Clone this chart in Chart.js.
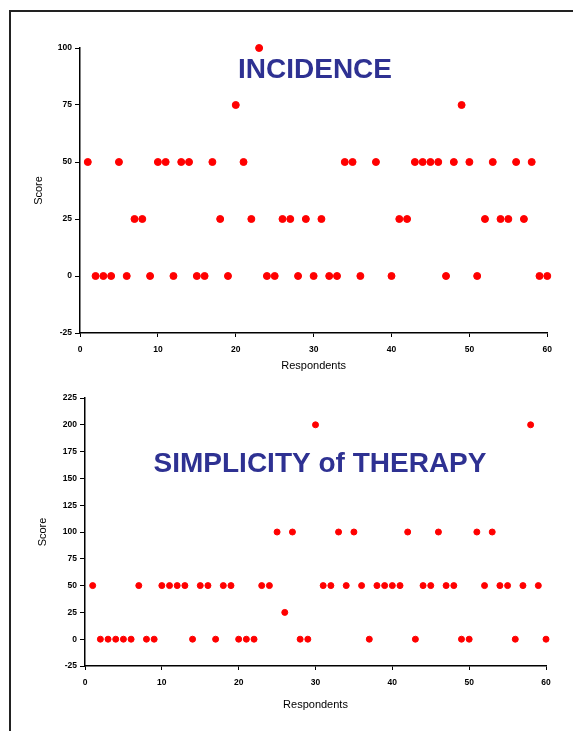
<!DOCTYPE html>
<html>
<head>
<meta charset="utf-8">
<script src="https://cdn.jsdelivr.net/npm/chart.js@4.4.0/dist/chart.umd.min.js"></script>
<style>
  body { margin: 0; background: #fff; width: 573px; height: 731px; overflow: hidden; position: relative; }
  #frame { position: absolute; left: 9px; top: 10px; width: 580px; height: 740px; border-top: 2px solid #222; border-left: 2px solid #222; }
  .box { position: absolute; left: 20px; width: 540px; }
  #box1 { top: 30px; height: 350px; }
  #box2 { top: 385px; height: 340px; }
</style>
</head>
<body>
<div id="frame"></div>
<div class="box" id="box1"><canvas id="chartIncidence"></canvas></div>
<div class="box" id="box2"><canvas id="chartTherapy"></canvas></div>
<script>
// Incidence - respondents 37 and 39 have no point
const incidenceResp = [1,2,3,4,5,6,7,8,9,10,11,12,13,14,15,16,17,18,19,20,21,22,23,24,25,26,27,28,29,30,31,32,33,34,35,36,38,40,41,42,43,44,45,46,47,48,49,50,51,52,53,54,55,56,57,58,59,60];
const incidenceScore = [50,0,0,0,50,0,25,25,0,50,50,0,50,50,0,0,50,25,0,75,50,25,100,0,0,25,25,0,25,0,25,0,0,50,50,0,50,0,25,25,50,50,50,50,0,50,75,50,0,25,50,25,25,50,25,50,0,0];
const incidenceTicks = [-25, 0, 25, 50, 75, 100];

// Simplicity of therapy - respondents 1..60
const therapyResp = [1,2,3,4,5,6,7,8,9,10,11,12,13,14,15,16,17,18,19,20,21,22,23,24,25,26,27,28,29,30,31,32,33,34,35,36,37,38,39,40,41,42,43,44,45,46,47,48,49,50,51,52,53,54,55,56,57,58,59,60];
const therapyScore = [50,0,0,0,0,0,50,0,0,50,50,50,50,0,50,50,0,50,50,0,0,0,50,50,100,25,100,0,0,200,50,50,100,50,100,50,0,50,50,50,50,100,0,50,50,100,50,50,0,0,100,50,100,50,50,0,50,200,50,0];
const therapyTicks = [-25, 0, 25, 50, 75, 100, 125, 150, 175, 200, 225];

const respTicks = [0, 10, 20, 30, 40, 50, 60];

const tickFont = { family: "'Liberation Sans', Arial, sans-serif", size: 8.5, weight: "bold" };
const axisFont = { family: "'Liberation Sans', Arial, sans-serif", size: 11 };

// draws the big blue heading inside the plot
const headingPlugin = {
    id: "heading",
    afterDatasetsDraw(chart, args, opts) {
        const ctx = chart.ctx;
        ctx.save();
        ctx.font = "bold 28px 'Liberation Sans', Arial, sans-serif";
        ctx.fillStyle = "#2e3192";
        ctx.textAlign = "center";
        ctx.textBaseline = "middle";
        ctx.fillText(opts.text, opts.x, opts.y);
        ctx.restore();
    }
};

function makeChart(id, resp, score, ticks, cfg) {
    const points = resp.map((r, i) => ({ x: r, y: score[i] }));
    return new Chart(document.getElementById(id), {
        type: "scatter",
        data: {
            datasets: [{
                data: points,
                backgroundColor: "#ff0000",
                borderColor: "#ff0000",
                pointRadius: cfg.radius,
                pointHoverRadius: cfg.radius,
                clip: false
            }]
        },
        options: {
            responsive: true,
            maintainAspectRatio: false,
            animation: false,
            events: [],
            layout: { padding: { top: cfg.padTop, right: cfg.padRight, left: 0, bottom: 0 } },
            scales: {
                x: {
                    type: "linear",
                    min: 0,
                    max: 60,
                    afterBuildTicks: s => { s.ticks = respTicks.map(v => ({ value: v })); },
                    afterFit: s => { s.height = cfg.xHeight; },
                    grid: { drawOnChartArea: false, color: "#000", tickLength: 4 },
                    border: { color: "#000", width: 1.5 },
                    ticks: { color: "#000", font: tickFont, padding: 8, maxRotation: 0 },
                    title: { display: true, text: "Respondents", color: "#000", font: axisFont, padding: { top: 0, bottom: cfg.xTitlePad } }
                },
                y: {
                    type: "linear",
                    min: ticks[0],
                    max: ticks[ticks.length - 1],
                    afterBuildTicks: s => { s.ticks = ticks.map(v => ({ value: v })); },
                    afterFit: s => { s.width = cfg.yWidth; },
                    grid: { drawOnChartArea: false, color: "#000", tickLength: 5 },
                    border: { color: "#000", width: 1.5 },
                    ticks: { color: "#000", font: tickFont, padding: 3 },
                    title: { display: true, text: "Score", color: "#000", font: axisFont, padding: { top: cfg.yTitlePad, bottom: 0 } }
                }
            },
            plugins: {
                legend: { display: false },
                tooltip: { enabled: false },
                heading: { text: cfg.heading, x: cfg.headX, y: cfg.headY }
            }
        },
        plugins: [headingPlugin]
    });
}

makeChart("chartIncidence", incidenceResp, incidenceScore, incidenceTicks, {
    radius: 3.5, padTop: 18, padRight: 12, xHeight: 47, yWidth: 60,
    xTitlePad: 7, yTitlePad: 12, heading: "INCIDENCE", headX: 295, headY: 40
});

makeChart("chartTherapy", therapyResp, therapyScore, therapyTicks, {
    radius: 3, padTop: 13, padRight: 14, xHeight: 59, yWidth: 65,
    xTitlePad: 13, yTitlePad: 16, heading: "SIMPLICITY of THERAPY", headX: 300, headY: 79
});
</script>
</body>
</html>
